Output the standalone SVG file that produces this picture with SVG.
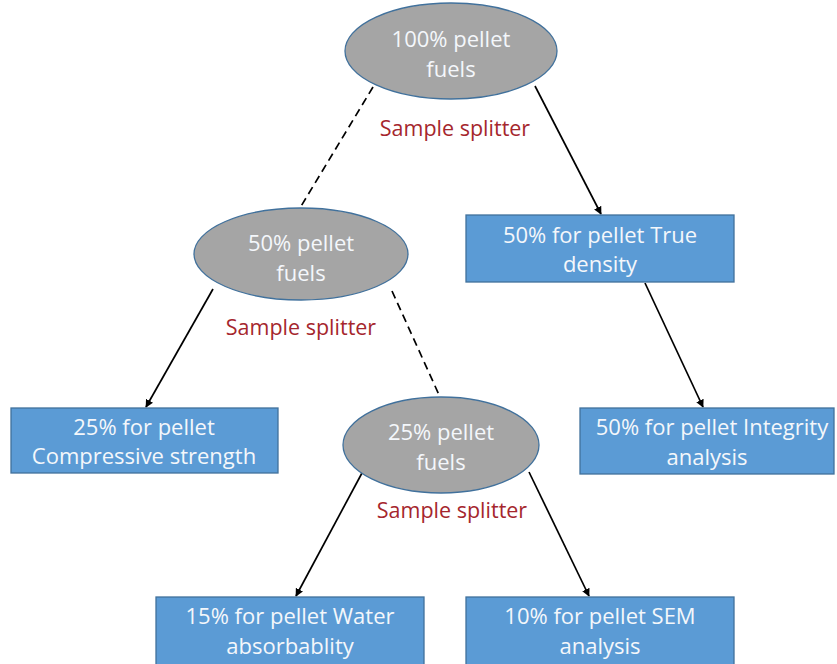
<svg xmlns="http://www.w3.org/2000/svg" width="837" height="664" viewBox="0 0 837 664">
  <defs>
    <marker id="arrow" viewBox="0 0 10 10" refX="9" refY="5" markerWidth="8" markerHeight="8" markerUnits="userSpaceOnUse" orient="auto">
      <path d="M0,0 L10,5 L0,10 z" fill="#000"/>
    </marker>
    <style>
      .ell { fill: #a5a5a5; stroke: #41719c; stroke-width: 1.3; }
      .box { fill: #5b9bd5; stroke: #41719c; stroke-width: 1.3; }
      .lbl { font-family: "Open Sans", "Liberation Sans", sans-serif; font-size: 22px; fill: #f4f7fb; text-anchor: middle; }
      .split { font-family: "Open Sans", "Liberation Sans", sans-serif; font-size: 21.5px; fill: #a5262d; text-anchor: middle; }
      .solid { stroke: #000; stroke-width: 1.7; fill: none; marker-end: url(#arrow); }
      .dash { stroke: #000; stroke-width: 1.7; fill: none; stroke-dasharray: 8 5; }
    </style>
  </defs>
  <rect width="837" height="664" fill="#fff"/>

  <g id="connectors">
    <line class="dash" x1="373" y1="87" x2="300" y2="208"/>
    <line class="solid" x1="535" y1="86" x2="601" y2="214"/>
    <line class="solid" x1="213" y1="289" x2="146" y2="407"/>
    <line class="dash" x1="392" y1="291" x2="440" y2="397"/>
    <line class="solid" x1="645" y1="283" x2="703" y2="407"/>
    <line class="solid" x1="362" y1="473" x2="296" y2="596"/>
    <line class="solid" x1="529" y1="472" x2="589" y2="596"/>
  </g>

  <g id="pellet-100">
    <ellipse class="ell" cx="451" cy="51" rx="106" ry="48"/>
    <text class="lbl" x="451" y="47">100% pellet</text>
    <text class="lbl" x="451" y="77">fuels</text>
  </g>
  <text class="split" x="455" y="136">Sample splitter</text>

  <g id="pellet-50">
    <ellipse class="ell" cx="301" cy="254" rx="107" ry="46"/>
    <text class="lbl" x="301" y="251">50% pellet</text>
    <text class="lbl" x="301" y="281">fuels</text>
  </g>
  <text class="split" x="301" y="335">Sample splitter</text>

  <g id="pellet-25">
    <ellipse class="ell" cx="441" cy="445" rx="98" ry="48"/>
    <text class="lbl" x="441" y="440">25% pellet</text>
    <text class="lbl" x="441" y="470">fuels</text>
  </g>
  <text class="split" x="452" y="518">Sample splitter</text>

  <g id="true-density">
    <rect class="box" x="466" y="215" width="268" height="67"/>
    <text class="lbl" x="600" y="243">50% for pellet True</text>
    <text class="lbl" x="600" y="272">density</text>
  </g>

  <g id="compressive-strength">
    <rect class="box" x="11" y="408" width="267" height="65"/>
    <text class="lbl" x="144" y="435">25% for pellet</text>
    <text class="lbl" x="144" y="464">Compressive strength</text>
  </g>

  <g id="integrity">
    <rect class="box" x="580" y="408" width="254" height="66"/>
    <text class="lbl" x="712" y="435">50% for pellet Integrity</text>
    <text class="lbl" x="707" y="465">analysis</text>
  </g>

  <g id="water-absorbability">
    <rect class="box" x="156" y="597" width="268" height="68"/>
    <text class="lbl" x="290" y="624">15% for pellet Water</text>
    <text class="lbl" x="290" y="654">absorbablity</text>
  </g>

  <g id="sem">
    <rect class="box" x="466" y="597" width="268" height="68"/>
    <text class="lbl" x="600" y="624">10% for pellet SEM</text>
    <text class="lbl" x="600" y="654">analysis</text>
  </g>
</svg>
